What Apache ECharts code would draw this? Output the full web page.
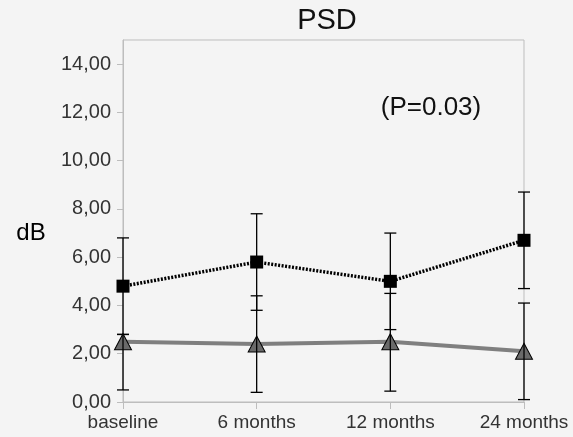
<!DOCTYPE html>
<html>
<head>
<meta charset="utf-8">
<script src="https://cdn.jsdelivr.net/npm/echarts@6/dist/echarts.min.js"></script>
<style>
html,body{margin:0;padding:0;background:#f4f4f4;}
#c{width:573px;height:437px;}
</style>
</head>
<body>
<div id="c"></div>
<script>
var categories = ['baseline', '6 months', '12 months', '24 months'];
var squareMean = [4.8, 5.8, 5.0, 6.7];
var squareLow = [2.8, 3.8, 3.0, 4.7];
var squareHigh = [6.8, 7.8, 7.0, 8.7];
var triMean = [2.5, 2.4, 2.5, 2.1];
var triLow = [0.5, 0.4, 0.45, 0.1];
var triHigh = [2.8, 4.4, 4.5, 4.1];
var titleText = 'PSD';
var pText = '(P=0.03)';
var yName = 'dB';

var FONT = '"Liberation Sans", Arial, sans-serif';

function errData(low, high) {
  return categories.map(function (c, i) { return [i, low[i], high[i]]; });
}
function errRender(params, api) {
  var x = api.value(0);
  var lo = api.coord([x, api.value(1)]);
  var hi = api.coord([x, api.value(2)]);
  var hw = 6;
  var st = { stroke: '#000', lineWidth: 1.3 };
  return {
    type: 'group',
    children: [
      { type: 'line', shape: { x1: lo[0], y1: lo[1], x2: hi[0], y2: hi[1] }, style: st },
      { type: 'line', shape: { x1: lo[0] - hw, y1: lo[1], x2: lo[0] + hw, y2: lo[1] }, style: st },
      { type: 'line', shape: { x1: hi[0] - hw, y1: hi[1], x2: hi[0] + hw, y2: hi[1] }, style: st }
    ]
  };
}

var chart = echarts.init(document.getElementById('c'), null, { renderer: 'canvas' });
chart.setOption({
  backgroundColor: '#f4f4f4',
  animation: false,
  textStyle: { fontFamily: FONT },
  grid: { left: 123, right: 49, top: 40, bottom: 35, show: true, borderColor: '#bdbdbd', borderWidth: 1, backgroundColor: 'transparent' },
  graphic: [
    { type: 'text', x: 327, y: 21, style: { text: titleText, fill: '#111', font: '29px ' + FONT, textAlign: 'center', textVerticalAlign: 'middle' } },
    { type: 'text', x: 431, y: 108, style: { text: pText, fill: '#111', font: '26px ' + FONT, textAlign: 'center', textVerticalAlign: 'middle' } },
    { type: 'text', x: 31, y: 233, style: { text: yName, fill: '#000', font: '24px ' + FONT, textAlign: 'center', textVerticalAlign: 'middle' } }
  ],
  xAxis: {
    type: 'category',
    data: categories,
    boundaryGap: false,
    axisLine: { lineStyle: { color: '#bdbdbd', width: 1 } },
    axisTick: { show: true, length: 7, lineStyle: { color: '#bdbdbd' } },
    axisLabel: { color: '#333', fontSize: 19, fontFamily: FONT, margin: 11, interval: 0 },
    splitLine: { show: false }
  },
  yAxis: {
    type: 'value',
    min: 0, max: 15, interval: 2,
    axisLine: { show: true, lineStyle: { color: '#bdbdbd', width: 1 } },
    axisTick: { show: true, length: 6, lineStyle: { color: '#bdbdbd' } },
    axisLabel: {
      color: '#333', fontSize: 20, fontFamily: FONT, margin: 12,
      showMaxLabel: false,
      formatter: function (v) { return v.toFixed(2).replace('.', ','); }
    },
    splitLine: { show: false }
  },
  series: [
    {
      type: 'line', data: triMean, z: 2,
      lineStyle: { color: '#7f7f7f', width: 4 },
      symbol: 'triangle', symbolSize: [17, 16],
      itemStyle: { color: '#6a6a6a', borderColor: '#000', borderWidth: 1 }
    },
    {
      type: 'line', data: squareMean, z: 3,
      lineStyle: { color: '#000', width: 3.5, type: [2, 1.5] },
      symbol: 'rect', symbolSize: 13,
      itemStyle: { color: '#000', borderColor: '#000', borderWidth: 0 }
    },
    { type: 'custom', data: errData(triLow, triHigh), renderItem: errRender, z: 5, clip: false, encode: { x: 0, y: [1, 2] } },
    { type: 'custom', data: errData(squareLow, squareHigh), renderItem: errRender, z: 5, clip: false, encode: { x: 0, y: [1, 2] } }
  ]
});
</script>
</body>
</html>
